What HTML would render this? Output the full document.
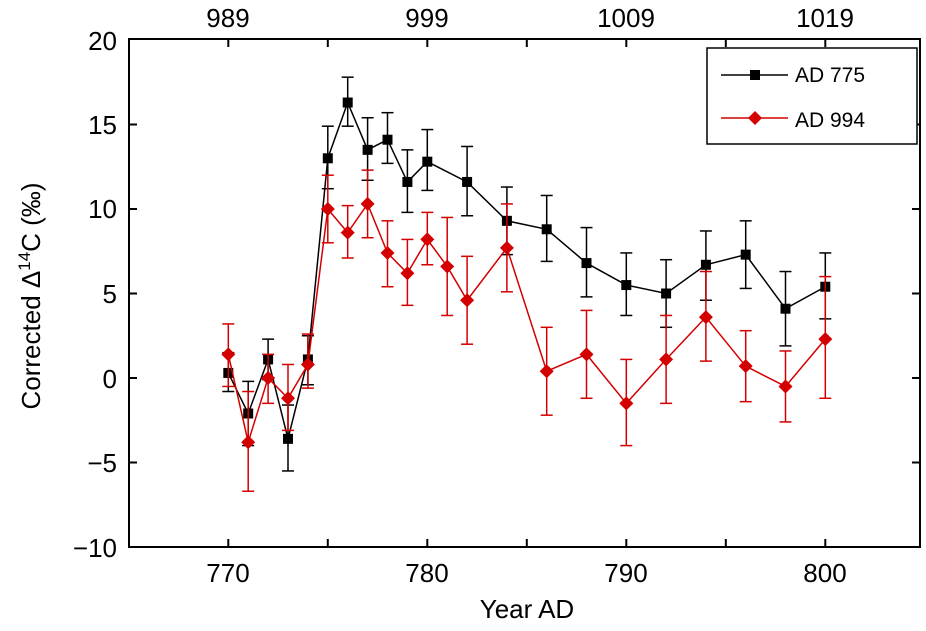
<!DOCTYPE html>
<html><head><meta charset="utf-8"><style>
html,body{margin:0;padding:0;background:#fff;}
svg{display:block;font-family:"Liberation Sans",Arial,sans-serif;}
</style></head><body>
<svg id="s" width="926" height="631" viewBox="0 0 926 631" xmlns="http://www.w3.org/2000/svg">
<rect x="129" y="39" width="791" height="508" fill="none" stroke="#000" stroke-width="2"/>
<g font-size="26" text-anchor="end" fill="#000">
<text x="117" y="50">20</text><text x="117" y="134">15</text><text x="117" y="218">10</text>
<text x="117" y="303">5</text><text x="117" y="388">0</text><text x="117" y="472">−5</text><text x="117" y="557">−10</text>
</g>
<g font-size="26" text-anchor="middle" fill="#000">
<text x="228" y="582">770</text><text x="427" y="582">780</text><text x="626" y="582">790</text><text x="825" y="582">800</text>
<text x="228" y="27">989</text><text x="427" y="27">999</text><text x="626" y="27">1009</text><text x="825" y="27">1019</text>
<text x="527" y="618">Year AD</text>
</g>
<text transform="translate(40,296) rotate(-90)" font-size="26" text-anchor="middle">Corrected Δ<tspan font-size="17" dy="-10">14</tspan><tspan dy="10">C (‰)</tspan></text>
<g id="ticks" stroke="#000" stroke-width="2"></g>
<g id="data"></g>
<rect x="707" y="48" width="210" height="96" fill="#fff" stroke="#000" stroke-width="1.5"/>
<line x1="721" y1="75" x2="788" y2="75" stroke="#000" stroke-width="1.5"/>
<rect x="750" y="70" width="10" height="10" fill="#000"/>
<line x1="721" y1="118" x2="788" y2="118" stroke="#d40000" stroke-width="1.5"/>
<polygon points="755,111 762,118 755,125 748,118" fill="#d40000"/>
<text x="795" y="82" font-size="21">AD 775</text>
<text x="795" y="127" font-size="21">AD 994</text>
</svg>
<script>
var NS="http://www.w3.org/2000/svg";
function X(t){return 228.3+19.9*(t-770);}
function Y(v){return 378-16.9*v;}
function el(p,n,a){var e=document.createElementNS(NS,n);for(var k in a)e.setAttribute(k,a[k]);p.appendChild(e);return e;}
var tk=document.getElementById("ticks");
for(var t=770;t<=800;t+=5){var x=X(t);el(tk,"line",{x1:x,y1:547,x2:x,y2:539});el(tk,"line",{x1:x,y1:39,x2:x,y2:47});}
for(var v=-5;v<=15;v+=5){var y=Y(v);el(tk,"line",{x1:129,y1:y,x2:137,y2:y});el(tk,"line",{x1:920,y1:y,x2:912,y2:y});}
var blk=[[770,0.3,1.5,-0.8],[771,-2.1,-0.2,-4],[772,1.1,2.3,-0.1],[773,-3.6,-1.6,-5.5],[774,1.1,2.5,-0.4],[775,13,14.9,11.2],[776,16.3,17.8,14.9],[777,13.5,15.4,11.7],[778,14.1,15.7,12.7],[779,11.6,13.5,9.8],[780,12.8,14.7,11.1],[782,11.6,13.7,9.6],[784,9.3,11.3,7.3],[786,8.8,10.8,6.9],[788,6.8,8.9,4.8],[790,5.5,7.4,3.7],[792,5,7,3],[794,6.7,8.7,4.6],[796,7.3,9.3,5.3],[798,4.1,6.3,1.9],[800,5.4,7.4,3.5]];
var red=[[770,1.4,3.2,-0.5],[771,-3.8,-0.8,-6.7],[772,0,1.4,-1.5],[773,-1.2,0.8,-3.1],[774,0.8,2.6,-0.6],[775,10,12,8],[776,8.6,10.2,7.1],[777,10.3,12.3,8.3],[778,7.4,9.3,5.4],[779,6.2,8.2,4.3],[780,8.2,9.8,6.7],[781,6.6,9.5,3.7],[782,4.6,7.2,2],[784,7.7,10.3,5.1],[786,0.4,3,-2.2],[788,1.4,4,-1.2],[790,-1.5,1.1,-4],[792,1.1,3.7,-1.5],[794,3.6,6.3,1],[796,0.7,2.8,-1.4],[798,-0.5,1.6,-2.6],[800,2.3,6,-1.2]];
var g=document.getElementById("data");
function series(d,c,sq){
 d.forEach(function(p){var x=X(p[0]),a=Y(p[2]),b=Y(p[3]);
  el(g,"line",{x1:x,y1:a,x2:x,y2:b,stroke:c,"stroke-width":1.5});
  el(g,"line",{x1:x-6,y1:a,x2:x+6,y2:a,stroke:c,"stroke-width":1.5});
  el(g,"line",{x1:x-6,y1:b,x2:x+6,y2:b,stroke:c,"stroke-width":1.5});});
 el(g,"polyline",{points:d.map(function(p){return X(p[0])+","+Y(p[1]);}).join(" "),fill:"none",stroke:c,"stroke-width":1.5});
 d.forEach(function(p){var x=X(p[0]),y=Y(p[1]);
  if(sq)el(g,"rect",{x:x-5,y:y-5,width:10,height:10,fill:c});
  else el(g,"polygon",{points:x+","+(y-7)+" "+(x+7)+","+y+" "+x+","+(y+7)+" "+(x-7)+","+y,fill:c});});
}
series(blk,"#000",true);
series(red,"#d40000",false);
</script>
</body></html>
